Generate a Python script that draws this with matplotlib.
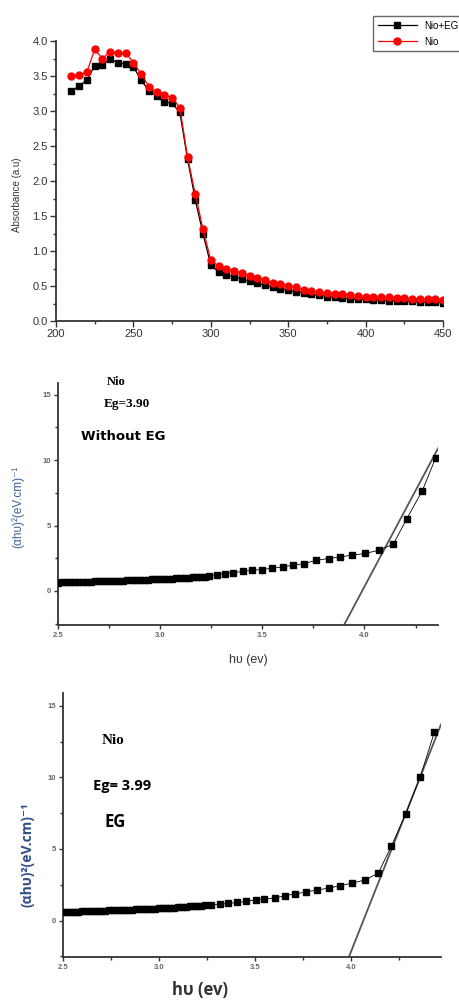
import matplotlib
matplotlib.use("Agg")
import matplotlib.pyplot as plt
from matplotlib.ticker import MultipleLocator

plt.rcParams["font.family"] = ["Liberation Sans", "DejaVu Sans"]

# UV-Vis absorbance spectra
wavelength = [210, 215, 220, 225, 230, 235, 240, 245, 250, 255, 260, 265, 270, 275,
              280, 285, 290, 295, 300, 305, 310, 315, 320, 325, 330, 335, 340, 345,
              350, 355, 360, 365, 370, 375, 380, 385, 390, 395, 400, 405, 410, 415,
              420, 425, 430, 435, 440, 445, 450]
abs_nio_eg = [3.28, 3.36, 3.44, 3.65, 3.66, 3.74, 3.69, 3.67, 3.63, 3.44, 3.29, 3.22,
              3.13, 3.11, 2.98, 2.31, 1.73, 1.24, 0.80, 0.70, 0.66, 0.63, 0.60, 0.57,
              0.54, 0.51, 0.48, 0.46, 0.44, 0.42, 0.40, 0.38, 0.37, 0.35, 0.34, 0.33,
              0.32, 0.31, 0.31, 0.30, 0.30, 0.29, 0.29, 0.28, 0.28, 0.27, 0.27, 0.27, 0.26]
abs_nio = [3.50, 3.51, 3.56, 3.88, 3.75, 3.85, 3.83, 3.83, 3.69, 3.53, 3.35, 3.27,
           3.23, 3.19, 3.05, 2.34, 1.81, 1.31, 0.87, 0.78, 0.74, 0.71, 0.68, 0.65,
           0.62, 0.58, 0.55, 0.53, 0.50, 0.48, 0.45, 0.43, 0.41, 0.40, 0.39, 0.38,
           0.37, 0.36, 0.35, 0.35, 0.34, 0.34, 0.33, 0.33, 0.32, 0.32, 0.31, 0.31, 0.30]

# Tauc plot, NiO without EG
e_nio = [2.50, 2.52, 2.54, 2.56, 2.58, 2.60, 2.62, 2.64, 2.66, 2.68, 2.70, 2.72, 2.74,
         2.76, 2.78, 2.80, 2.82, 2.84, 2.86, 2.88, 2.90, 2.92, 2.94, 2.96, 2.98, 3.00,
         3.02, 3.04, 3.06, 3.08, 3.10, 3.12, 3.14, 3.16, 3.18, 3.20, 3.22, 3.24,
         3.277, 3.318, 3.359, 3.405, 3.449, 3.498, 3.547, 3.601, 3.650, 3.706, 3.765,
         3.825, 3.882, 3.940, 4.005, 4.070, 4.141, 4.206, 4.283, 4.348]
t_nio = [0.64, 0.65, 0.66, 0.67, 0.68, 0.69, 0.70, 0.71, 0.72, 0.73, 0.74, 0.75, 0.76,
         0.77, 0.78, 0.79, 0.80, 0.81, 0.82, 0.83, 0.84, 0.85, 0.86, 0.88, 0.89, 0.90,
         0.92, 0.93, 0.95, 0.96, 0.98, 1.00, 1.02, 1.04, 1.06, 1.08, 1.10, 1.13,
         1.26, 1.33, 1.41, 1.49, 1.59, 1.64, 1.74, 1.84, 1.97, 2.10, 2.35,
         2.48, 2.61, 2.74, 2.87, 3.12, 3.58, 5.49, 7.66, 10.15]
fit_nio_x = [3.90, 4.36]
fit_nio_y = [-2.6, 10.9]

# Tauc plot, NiO with EG
e_eg = [2.50, 2.52, 2.54, 2.56, 2.58, 2.60, 2.62, 2.64, 2.66, 2.68, 2.70, 2.72, 2.74,
        2.76, 2.78, 2.80, 2.82, 2.84, 2.86, 2.88, 2.90, 2.92, 2.94, 2.96, 2.98, 3.00,
        3.02, 3.04, 3.06, 3.08, 3.10, 3.12, 3.14, 3.16, 3.18, 3.20, 3.22, 3.24,
        3.273, 3.316, 3.360, 3.406, 3.455, 3.504, 3.550, 3.603, 3.655, 3.707, 3.764,
        3.825, 3.885, 3.945, 4.007, 4.075, 4.143, 4.212, 4.285, 4.361, 4.436]
t_eg = [0.58, 0.59, 0.60, 0.61, 0.62, 0.63, 0.64, 0.65, 0.66, 0.67, 0.68, 0.69, 0.70,
        0.71, 0.72, 0.73, 0.74, 0.75, 0.76, 0.77, 0.78, 0.79, 0.80, 0.82, 0.83, 0.84,
        0.86, 0.87, 0.89, 0.90, 0.92, 0.94, 0.96, 0.98, 1.00, 1.02, 1.04, 1.06,
        1.10, 1.14, 1.19, 1.26, 1.33, 1.44, 1.49, 1.58, 1.72, 1.86, 1.98,
        2.14, 2.26, 2.44, 2.61, 2.84, 3.31, 5.21, 7.42, 10.00, 13.19]
fit_eg_x = [3.99, 4.47]
fit_eg_y = [-2.55, 13.7]

fig = plt.figure(figsize=(4.6, 10.01), dpi=100)


def px(x0, y0, x1, y1):
    # pixel box (left, top, right, bottom) -> figure fraction rect
    W, H = 460, 1001
    return [x0 / W, 1 - y1 / H, (x1 - x0) / W, (y1 - y0) / H]


def style(ax, size, color, major, minor):
    for s in ["top", "right"]:
        ax.spines[s].set_visible(False)
    for s in ["left", "bottom"]:
        ax.spines[s].set_linewidth(1.3)
        ax.spines[s].set_color("#333333")
    ax.tick_params(which="major", length=major, width=1, labelsize=size,
                   labelcolor=color, color="#333333", pad=2)
    ax.tick_params(which="minor", length=minor, width=1, color="#333333")


# --- absorbance ---
ax1 = fig.add_axes(px(56, 41, 443, 321))
ax1.plot(wavelength, abs_nio_eg, "-s", color="black", lw=0.9, ms=5, label="Nio+EG", zorder=2)
ax1.plot(wavelength, abs_nio, "-o", color="red", lw=0.9, ms=5, label="Nio", zorder=3)
ax1.set_xlim(200, 450)
ax1.set_ylim(0, 4.0)
ax1.xaxis.set_major_locator(MultipleLocator(50))
ax1.xaxis.set_minor_locator(MultipleLocator(25))
ax1.yaxis.set_major_locator(MultipleLocator(0.5))
ax1.yaxis.set_minor_locator(MultipleLocator(0.25))
ax1.yaxis.set_major_formatter(lambda v, p: f"{v:.1f}")
style(ax1, 8, "#333333", 4, 2.5)
fig.text(17 / 460, 1 - 195 / 1001, "Absorbance (a.u)", rotation=90, ha="center",
         va="center", fontsize=7, color="#3b3430")
leg = fig.legend(loc="upper left", bbox_to_anchor=(368 / 460, 1 - 11 / 1001),
                 fontsize=7, frameon=True, fancybox=False, edgecolor="#444444",
                 handlelength=4, borderpad=0.5, labelspacing=0.6)
leg.get_frame().set_linewidth(1.0)

# --- Tauc, without EG ---
ax2 = fig.add_axes(px(58, 383, 438, 625))
ax2.plot(e_nio, t_nio, "-s", color="black", lw=0.6, ms=4.5, zorder=3)
ax2.plot(fit_nio_x, fit_nio_y, "-", color="#555555", lw=1.3, zorder=2)
ax2.set_xlim(2.5, 4.36)
ax2.set_ylim(-2.6, 15.9)
ax2.xaxis.set_major_locator(MultipleLocator(0.5))
ax2.xaxis.set_minor_locator(MultipleLocator(0.25))
ax2.yaxis.set_major_locator(MultipleLocator(5))
ax2.yaxis.set_minor_locator(MultipleLocator(2.5))
ax2.xaxis.set_major_formatter(lambda v, p: f"{v:.1f}")
style(ax2, 5.5, "#666666", 3, 2)
for t in ax2.get_xticklabels() + ax2.get_yticklabels():
    t.set_fontweight("bold")
fig.text(18 / 460, 1 - 507 / 1001, "(αhυ)²(eV.cm)⁻¹", rotation=90, ha="center",
         va="center", fontsize=8.5, color="#3d5f98")
fig.text(248 / 460, 1 - 660 / 1001, "hυ (ev)", ha="center", va="center",
         fontsize=9, color="#333333")
fig.text(107 / 460, 1 - 382 / 1001, "Nio", family="Liberation Serif",
         fontweight="bold", fontsize=9, va="center")
fig.text(104 / 460, 1 - 404 / 1001, "Eg=3.90", family="Liberation Serif",
         fontweight="bold", fontsize=9.5, va="center")
fig.text(81 / 460, 1 - 436 / 1001, "Without EG", family="DejaVu Sans",
         fontweight="bold", fontsize=9.5, va="center")

# --- Tauc, with EG ---
ax3 = fig.add_axes(px(63, 693, 441, 957))
ax3.plot(e_eg, t_eg, "-s", color="black", lw=0.6, ms=4.8, zorder=3)
ax3.plot(fit_eg_x, fit_eg_y, "-", color="#555555", lw=1.3, zorder=2)
ax3.set_xlim(2.5, 4.47)
ax3.set_ylim(-2.55, 15.9)
ax3.xaxis.set_major_locator(MultipleLocator(0.5))
ax3.xaxis.set_minor_locator(MultipleLocator(0.25))
ax3.yaxis.set_major_locator(MultipleLocator(5))
ax3.yaxis.set_minor_locator(MultipleLocator(2.5))
ax3.xaxis.set_major_formatter(lambda v, p: f"{v:.1f}")
style(ax3, 5.5, "#666666", 3, 2)
for t in ax3.get_xticklabels() + ax3.get_yticklabels():
    t.set_fontweight("bold")
fig.text(28 / 460, 1 - 855 / 1001, "(αhυ)²(eV.cm)⁻¹", rotation=90, ha="center",
         va="center", fontsize=10, color="#2f4f8a", family=["Open Sans", "DejaVu Sans"],
         fontweight="bold")
fig.text(200 / 460, 1 - 990 / 1001, "hυ (ev)", ha="center", va="center",
         fontsize=12, color="#333333", family=["Open Sans", "DejaVu Sans"],
         fontweight="bold")
fig.text(102 / 460, 1 - 740 / 1001, "Nio", family="Liberation Serif",
         fontweight="bold", fontsize=11, va="center")
fig.text(93 / 460, 1 - 786 / 1001, "Eg= 3.99", family="Open Sans",
         fontweight="bold", fontsize=10.5, va="center")
fig.text(105 / 460, 1 - 822 / 1001, "EG", family="Open Sans",
         fontweight="bold", fontsize=12, va="center")

fig.savefig("out.png", dpi=100)
